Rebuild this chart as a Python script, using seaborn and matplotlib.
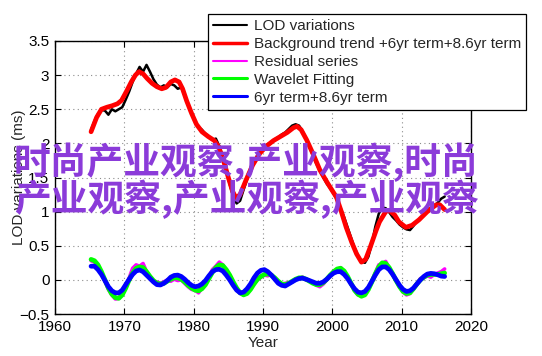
import numpy as np
import matplotlib
matplotlib.use("Agg")
import matplotlib.pyplot as plt
import seaborn as sns
from matplotlib.ticker import FuncFormatter

# half-year grid shared by the LOD, residual, wavelet and 6yr+8.6yr curves
years = np.round(np.arange(1965.2, 2016.25, 0.5), 1)

lod = [2.2, 2.33, 2.43, 2.49, 2.48, 2.42, 2.5, 2.47, 2.5, 2.53,
       2.64, 2.76, 2.9, 3.02, 3.12, 3.05, 3.15, 3.05, 2.94, 2.86,
       2.82, 2.85, 2.82, 2.87, 2.85, 2.8, 2.82, 2.7, 2.57, 2.45,
       2.32, 2.24, 2.2, 2.14, 2.1, 2.05, 2.07, 1.96, 1.8, 1.6,
       1.4, 1.22, 1.12, 1.16, 1.32, 1.47, 1.62, 1.73, 1.83, 1.9,
       1.95, 1.99, 2.02, 2.06, 2.09, 2.13, 2.16, 2.21, 2.26, 2.28,
       2.26, 2.18, 2.07, 1.95, 1.82, 1.7, 1.6, 1.5, 1.41, 1.34,
       1.26, 1.17, 1.05, 0.92, 0.77, 0.62, 0.47, 0.36, 0.27, 0.25,
       0.34, 0.53, 0.78, 0.97, 1.06, 1.05, 0.99, 0.92, 0.87, 0.81,
       0.77, 0.74, 0.73, 0.79, 0.86, 0.89, 0.96, 1.03, 1.06, 1.09,
       1.13, 1.19, 1.22]

trend_years = [1965.2, 1966.0, 1966.7, 1967.5, 1968.2, 1969.0, 1969.6, 1970.3, 1971.0, 1971.6,
               1972.1, 1972.7, 1973.3, 1974.0, 1974.7, 1975.4, 1976.0, 1976.7, 1977.3, 1977.9,
               1978.4, 1979.0, 1979.7, 1980.4, 1981.2, 1982.1, 1983.0, 1983.6, 1984.3, 1985.0,
               1985.6, 1986.1, 1986.7, 1987.5, 1988.5, 1989.5, 1990.5, 1991.5, 1992.5, 1993.5,
               1994.4, 1994.9, 1995.5, 1996.3, 1997.2, 1998.2, 1999.3, 2000.6, 2001.3, 2002.0,
               2002.8, 2003.5, 2004.2, 2004.8, 2005.4, 2006.3, 2006.8, 2007.7, 2008.2, 2009.0,
               2009.6, 2010.6, 2011.5, 2012.5, 2013.9, 2015.0, 2015.5, 2016.2]
trend = [2.17, 2.38, 2.5, 2.53, 2.55, 2.58, 2.63, 2.76, 2.9, 3.0,
         3.05, 3.02, 2.95, 2.88, 2.83, 2.8, 2.82, 2.9, 2.93, 2.9,
         2.8, 2.62, 2.44, 2.28, 2.17, 2.1, 2.04, 1.95, 1.75, 1.5,
         1.3, 1.2, 1.25, 1.45, 1.68, 1.85, 1.96, 2.04, 2.1, 2.16,
         2.23, 2.25, 2.2, 2.05, 1.85, 1.61, 1.42, 1.21, 1.0, 0.77,
         0.55, 0.38, 0.26, 0.3, 0.46, 0.72, 0.85, 1.0, 1.02, 0.95,
         0.85, 0.77, 0.8, 0.88, 1.02, 1.1, 1.1, 1.03]

residual = [0.28, 0.26, 0.2, 0.1, -0.02, -0.14, -0.22, -0.28, -0.27, -0.2,
            -0.1, 0.03, 0.17, 0.22, 0.2, 0.24, 0.12, 0.04, -0.02, -0.03,
            -0.05, -0.03, 0.0, -0.02, 0.01, -0.01, 0.0, -0.05, -0.1, -0.14,
            -0.15, -0.19, -0.12, -0.06, 0.05, 0.15, 0.2, 0.26, 0.22, 0.14,
            0.05, -0.05, -0.14, -0.2, -0.21, -0.18, -0.12, -0.06, 0.0, 0.04,
            0.07, 0.06, 0.08, 0.02, -0.03, -0.06, -0.05, -0.04, -0.03, 0.01,
            0.02, 0.04, 0.0, -0.01, -0.04, -0.08, -0.1, -0.06, 0.0, 0.06,
            0.13, 0.15, 0.18, 0.12, 0.03, -0.06, -0.16, -0.22, -0.22, -0.2,
            -0.12, -0.02, 0.1, 0.22, 0.24, 0.27, 0.17, 0.08, 0.0, -0.1,
            -0.18, -0.22, -0.2, -0.12, -0.05, 0.02, 0.03, 0.06, 0.04, 0.08,
            0.1, 0.12, 0.16]

wavelet = [0.3, 0.28, 0.22, 0.12, 0.0, -0.12, -0.21, -0.26, -0.27, -0.22,
           -0.12, 0.0, 0.1, 0.17, 0.19, 0.18, 0.12, 0.05, -0.01, -0.05,
           -0.06, -0.05, -0.02, 0.01, 0.03, 0.03, 0.01, -0.03, -0.08, -0.12,
           -0.15, -0.16, -0.13, -0.07, 0.02, 0.11, 0.18, 0.22, 0.21, 0.15,
           0.07, -0.03, -0.12, -0.19, -0.22, -0.2, -0.14, -0.06, 0.01, 0.05,
           0.08, 0.09, 0.07, 0.03, -0.02, -0.06, -0.07, -0.05, -0.02, 0.01,
           0.03, 0.03, 0.01, -0.02, -0.05, -0.07, -0.07, -0.04, 0.01, 0.07,
           0.12, 0.16, 0.17, 0.13, 0.05, -0.05, -0.15, -0.21, -0.24, -0.22,
           -0.14, -0.03, 0.09, 0.19, 0.25, 0.24, 0.18, 0.09, -0.01, -0.1,
           -0.17, -0.2, -0.19, -0.13, -0.06, 0.0, 0.04, 0.07, 0.08, 0.08,
           0.08, 0.09, 0.1]

osc = [0.2, 0.2, 0.15, 0.08, -0.01, -0.1, -0.16, -0.19, -0.19, -0.15,
       -0.07, 0.01, 0.08, 0.13, 0.145, 0.12, 0.07, 0.02, -0.03, -0.07,
       -0.075, -0.05, -0.01, 0.04, 0.065, 0.07, 0.05, 0.01, -0.04, -0.08,
       -0.1, -0.09, -0.06, -0.01, 0.06, 0.12, 0.15, 0.155, 0.13, 0.07,
       0.0, -0.08, -0.15, -0.19, -0.18, -0.13, -0.06, 0.03, 0.1, 0.14,
       0.15, 0.12, 0.07, 0.01, -0.05, -0.08, -0.09, -0.06, -0.03, 0.0,
       0.02, 0.025, 0.01, -0.01, -0.03, -0.05, -0.05, -0.03, 0.01, 0.06,
       0.1, 0.12, 0.12, 0.08, 0.02, -0.06, -0.13, -0.18, -0.19, -0.17,
       -0.11, -0.02, 0.07, 0.15, 0.19, 0.19, 0.15, 0.08, 0.0, -0.08,
       -0.14, -0.17, -0.16, -0.12, -0.06, 0.0, 0.05, 0.085, 0.095, 0.09,
       0.075, 0.055, 0.05]

labels = ["LOD variations", "Background trend +6yr term+8.6yr term",
          "Residual series", "Wavelet Fitting", "6yr term+8.6yr term"]
x_ticks = [1960, 1970, 1980, 1990, 2000, 2010, 2020]
y_ticks = [-0.5, 0, 0.5, 1, 1.5, 2, 2.5, 3, 3.5]
watermark = ["时尚产业观察,产业观察,时尚", "产业观察,产业观察,产业观察"]

sns.set_style("ticks")
plt.rcParams["font.family"] = ["Liberation Sans", "DejaVu Sans"]

fig = plt.figure(figsize=(5.42, 3.56), dpi=100)
ax = fig.add_axes([55 / 542, 42 / 356, 416 / 542, 273 / 356])

sns.lineplot(x=years, y=lod, ax=ax, color="black", lw=1.8, label=labels[0])
sns.lineplot(x=trend_years, y=trend, ax=ax, color="#ff0000", lw=3.4, label=labels[1])
sns.lineplot(x=years, y=residual, ax=ax, color="#ff00ff", lw=2.6, label=labels[2])
sns.lineplot(x=years, y=wavelet, ax=ax, color="#00ff00", lw=3.4, label=labels[3])
sns.lineplot(x=years, y=osc, ax=ax, color="#0000ff", lw=3.4, label=labels[4])

ax.set_xlim(1960, 2020)
ax.set_ylim(-0.5, 3.5)
ax.set_xticks(x_ticks)
ax.set_yticks(y_ticks)
ax.yaxis.set_major_formatter(FuncFormatter(lambda v, p: f"{v:g}".replace("-", "\u2212")))
ax.tick_params(direction="in", top=True, right=True, length=4, width=0.8,
               labelsize=11, pad=4, colors="black")
ax.grid(True, linestyle=(0, (1, 3)), color="0.55", lw=0.8)
for s in ax.spines.values():
    s.set_color("black")
    s.set_linewidth(1.0)

ax.set_xlabel("Year", fontsize=11, labelpad=2)
ax.set_ylabel("LOD variations (ms)", fontsize=11)
ax.yaxis.set_label_coords(-0.07, 0.5)

leg = ax.legend(loc="upper left", bbox_to_anchor=(208 / 542, 1 - 14 / 356),
                bbox_transform=fig.transFigure, fontsize=11, frameon=True,
                fancybox=False, framealpha=1, edgecolor="black",
                borderpad=0.35, labelspacing=0.25, handlelength=2.2,
                handletextpad=0.45, borderaxespad=0)
leg.get_frame().set_linewidth(0.9)
for line, w in zip(leg.get_lines(), [1.5, 2.5, 1.5, 2.2, 2.2]):
    line.set_linewidth(w)

for i, txt in enumerate(watermark):
    fig.text(14 / 542, 1 - (162 + 37 * i) / 356, txt, color="#8b3bd9",
             fontsize=26.5, fontweight="bold", ha="left", va="center",
             family=["Noto Sans CJK SC", "DejaVu Sans"])

fig.savefig("out.png", dpi=100)
